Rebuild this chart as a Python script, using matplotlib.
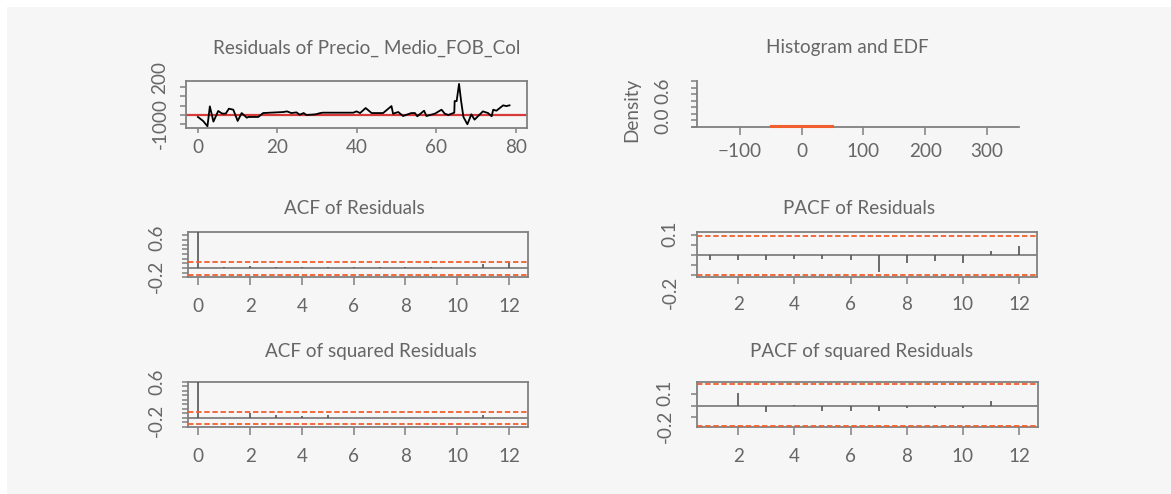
import matplotlib
matplotlib.use('Agg')
import matplotlib.pyplot as plt
import matplotlib.transforms as mtransforms
from matplotlib.patches import Rectangle
import numpy as np

plt.rcParams['font.family'] = ['Lato', 'DejaVu Sans']

# ---------------- data ----------------
res_time = [0, 1.3, 2.4, 3.0, 3.9, 5.1, 6.1, 7.0, 7.8, 8.9, 10.0, 11.0, 12.3, 12.7, 15.2, 16.4,
            21.5, 22.4, 23.5, 24.8, 25.6, 26.6, 27.3, 29.6, 30.8, 31.5, 39.1, 39.9, 40.8, 42.2,
            43.7, 46.6, 48.7, 49.1, 50.4, 51.6, 53.7, 54.6, 55.2, 56.9, 57.5, 59.6, 61.3, 62.1,
            63.0, 64.5, 64.6, 65.1, 65.7, 66.2, 66.8, 67.8, 68.8, 69.6, 71.7, 73.0, 73.9, 74.3,
            75.1, 76.8, 77.6, 78.4]
res_values = [-21, -64, -121, 93, -71, 43, 15, 15, 68, 57, -64, 21, -29, -21, -21, 21,
              32, 39, 21, 28, 3, 21, 0, 7, 21, 25, 25, 39, 21, 75,
              21, 21, 96, 14, 32, -11, 21, 21, -14, 46, -11, 14, 57, 14,
              0, 25, 150, 150, 335, 157, -21, -100, 7, -50, 39, 21, -14, 57,
              46, 104, 96, 104]

hist_left, hist_right, hist_density = [-50], [50], [0.01]

acf_lags = list(range(0, 13))
acf_res = [1.0, 0.03, 0.035, 0.03, 0.03, 0.03, 0.03, 0.03, 0.03, 0.03, 0.0, 0.077, 0.105]
acf_res_ci = (0.122, -0.155)
acf_sq = [1.0, 0.0, 0.106, 0.057, 0.043, 0.057, 0.0, 0.0, 0.0, 0.0, 0.0, 0.057, 0.0]
acf_sq_ci = (0.138, -0.132)

pacf_lags = list(range(1, 13))
pacf_res = [-0.024, -0.024, -0.024, -0.021, -0.021, -0.024, -0.081, -0.037, -0.028, -0.041, 0.021, 0.044]
pacf_res_ci = (0.093, -0.099)
pacf_sq = [0.0, 0.107, -0.052, 0.003, -0.046, -0.046, -0.046, -0.023, -0.023, -0.023, 0.04, 0.0]
pacf_sq_ci = (0.186, -0.177)

titles = ["Residuals of Precio_ Medio_FOB_Col", "Histogram and EDF", "ACF of Residuals",
          "PACF of Residuals", "ACF of squared Residuals", "PACF of squared Residuals"]

res_xticks = [0, 20, 40, 60, 80]
res_yticks = [-100, 0, 100, 200, 300]
res_ylabels = ["-1000", "200"]
res_ylabel_at = [-90, 405]

hist_xticks = [-100, 0, 100, 200, 300]
hist_xlabels = ["\u2212100", "0", "100", "200", "300"]
hist_yticks = [0, 0.1, 0.2, 0.3, 0.4, 0.5, 0.6, 0.7]
hist_ylabels = ["0.0", "0.6"]
hist_ylabel_at = [0.09, 0.55]

acf_xticks = [0, 2, 4, 6, 8, 10, 12]
pacf_xticks = [2, 4, 6, 8, 10, 12]
acf_res_yticks = list(np.round(np.arange(-0.2, 0.75, 0.1), 2))
acf_res_ylabels, acf_res_ylabel_at = ["-0.2", "0.6"], [-0.173, 0.636]
acf_sq_yticks = list(np.round(np.arange(-0.2, 0.85, 0.1), 2))
acf_sq_ylabels, acf_sq_ylabel_at = ["-0.2", "0.6"], [-0.064, 0.79]
pacf_res_yticks = [-0.1, -0.05, 0.0, 0.05, 0.1]
pacf_res_ylabels, pacf_res_ylabel_at = ["-0.2", "0.1"], [-0.183, 0.106]
pacf_sq_yticks = [-0.1, 0.0, 0.1]
pacf_sq_ylabels, pacf_sq_ylabel_at = ["-0.2", "0.1"], [-0.178, 0.108]

# ---------------- style ----------------
W, H = 1171, 494
FS = 13.6
TC = '#666666'
SPINE = '#808080'
ORANGE = '#f0602e'
RED = '#d63a3a'
SPIKE = '#555555'

fig = plt.figure(figsize=(W / 100, H / 100), dpi=100)
fig.patch.set_facecolor('white')
fig.patches.append(Rectangle((7 / W, 0), 1 - 7 / W, 1 - 7 / H, transform=fig.transFigure,
                             facecolor='#f6f6f6', edgecolor='none', zorder=-10))


def add_ax(l, t, r, b):
    ax = fig.add_axes([l / W, 1 - b / H, (r - l) / W, (b - t) / H])
    ax.set_facecolor('none')
    for s in ax.spines.values():
        s.set_color(SPINE)
        s.set_linewidth(1.3)
    return ax


def style_ticks(ax, xlen, xpad, ylen):
    ax.tick_params(axis='x', direction='out', length=xlen * 0.72, width=1.1, color=SPINE,
                   labelsize=FS, labelcolor=TC, pad=xpad * 0.72)
    ax.tick_params(axis='y', direction='out', length=ylen * 0.72, width=1.1, color=SPINE,
                   labelleft=False)


def ylabels(ax, x_px, values, labels):
    tr = mtransforms.blended_transform_factory(fig.transFigure, ax.transData)
    for v, s in zip(values, labels):
        ax.text(x_px / W, v, s, transform=tr, rotation=90, ha='center', va='center',
                fontsize=FS, color=TC, clip_on=False)


def title(x_px, y_px, s):
    fig.text(x_px / W, 1 - y_px / H, s, ha='center', va='center', fontsize=FS, color=TC)


# ---- Residuals ----
ax1 = add_ax(186, 81, 527, 128)
ax1.plot(res_time, res_values, color='black', lw=1.3, zorder=3)
ax1.axhline(0, color=RED, lw=1.6, zorder=2)
ax1.set_xlim(-3, 82.8)
ax1.set_ylim(-140, 366)
ax1.set_xticks(res_xticks)
ax1.set_yticks(res_yticks)
style_ticks(ax1, 5, 6, 6)
ylabels(ax1, 160, res_ylabel_at, res_ylabels)
title(366.5, 48, titles[0])

# ---- Histogram ----
ax2 = add_ax(691.7, 81, 1019, 126.7)
ax2.bar(hist_left, hist_density, width=[r - l for l, r in zip(hist_left, hist_right)],
        align='edge', color=ORANGE, edgecolor=ORANGE, lw=1.5, clip_on=False, zorder=3)
ax2.set_xlim(-178, 352)
ax2.set_ylim(0, 0.7)
ax2.spines['top'].set_visible(False)
ax2.spines['right'].set_visible(False)
ax2.spines['left'].set_position(('data', -170))
ax2.set_xticks(hist_xticks)
ax2.set_xticklabels(hist_xlabels)
ax2.set_yticks(hist_yticks)
style_ticks(ax2, 8, 8, 6)
ylabels(ax2, 663.3, hist_ylabel_at, hist_ylabels)
fig.text(631.7 / W, 1 - 110 / H, "Density", rotation=90, ha='center', va='center',
         fontsize=FS, color=TC)
title(847, 48, titles[1])


def corr_panel(ax, lags, vals, ci, xlim, ylim, xticks, yticks):
    ax.vlines(lags, 0, vals, color=SPIKE, lw=1.2, zorder=3)
    ax.axhline(0, color=SPINE, lw=1.3, zorder=2)
    ax.axhline(ci[0], color=ORANGE, lw=1.3, ls=(0, (3, 1.5)), zorder=4)
    ax.axhline(ci[1], color=ORANGE, lw=1.3, ls=(0, (3, 1.5)), zorder=4)
    ax.set_xlim(*xlim)
    ax.set_ylim(*ylim)
    ax.set_xticks(xticks)
    ax.set_yticks(yticks)


# ---- ACF of residuals ----
ax3 = add_ax(187.7, 232.3, 527.7, 277.3)
corr_panel(ax3, acf_lags, acf_res, acf_res_ci, (-0.41, 12.72), (-0.2, 0.762),
           acf_xticks, acf_res_yticks)
style_ticks(ax3, 8, 13, 6)
ylabels(ax3, 156.7, acf_res_ylabel_at, acf_res_ylabels)
title(354, 208, titles[2])

# ---- PACF of residuals ----
ax4 = add_ax(696.7, 231.7, 1037.3, 276.7)
corr_panel(ax4, pacf_lags, pacf_res, pacf_res_ci, (0.52, 12.65), (-0.1059, 0.1137),
           pacf_xticks, pacf_res_yticks)
style_ticks(ax4, 7, 12, 6)
ylabels(ax4, 670, pacf_res_ylabel_at, pacf_res_ylabels)
title(859.3, 208.3, titles[3])

# ---- ACF of squared residuals ----
ax5 = add_ax(187.7, 381.7, 527.7, 427)
corr_panel(ax5, acf_lags, acf_sq, acf_sq_ci, (-0.41, 12.72), (-0.2, 0.80),
           acf_xticks, acf_sq_yticks)
style_ticks(ax5, 8, 13, 6)
ylabels(ax5, 156.7, acf_sq_ylabel_at, acf_sq_ylabels)
title(370.7, 351.7, titles[4])

# ---- PACF of squared residuals ----
ax6 = add_ax(697.3, 382.3, 1038.3, 427.3)
corr_panel(ax6, pacf_lags, pacf_sq, pacf_sq_ci, (0.54, 12.69), (-0.188, 0.203),
           pacf_xticks, pacf_sq_yticks)
style_ticks(ax6, 8, 13, 6)
ylabels(ax6, 665, pacf_sq_ylabel_at, pacf_sq_ylabels)
title(861.7, 351.7, titles[5])

fig.savefig('out.png', dpi=100, facecolor=fig.get_facecolor())
